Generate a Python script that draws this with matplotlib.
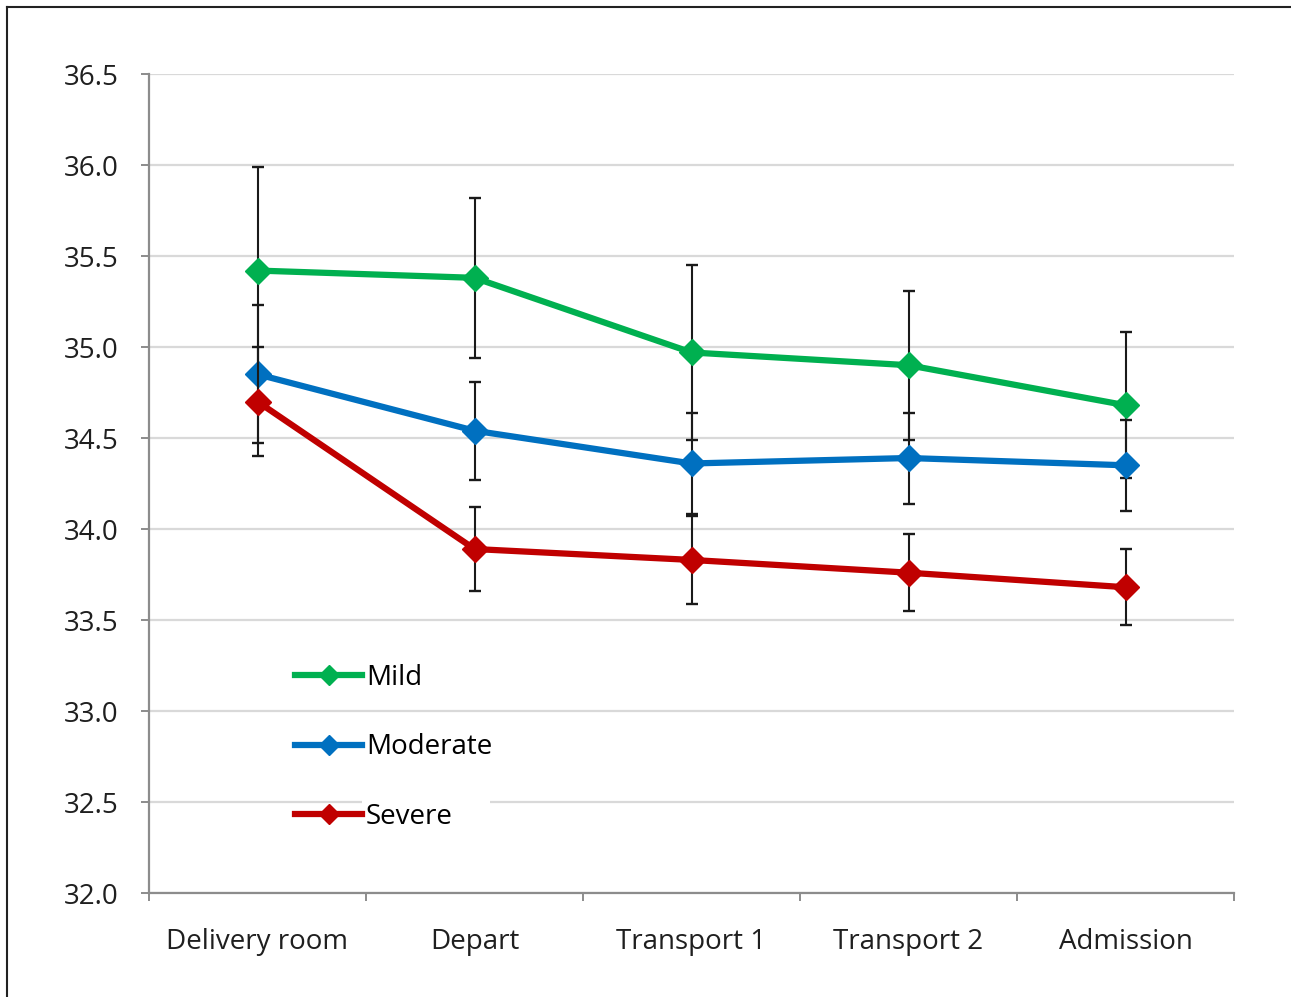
import numpy as np
import matplotlib.pyplot as plt
from matplotlib.lines import Line2D
from matplotlib.patches import Rectangle

# categories along the transport
stages = ['Delivery room', 'Depart', 'Transport 1', 'Transport 2', 'Admission']

# mean temperature per group
mild = [35.42, 35.38, 34.97, 34.90, 34.68]
moderate = [34.85, 34.54, 34.36, 34.39, 34.35]
severe = [34.70, 33.89, 33.83, 33.76, 33.68]

# error bar half widths (SD)
mild_err = [0.57, 0.44, 0.48, 0.41, 0.40]
moderate_err = [0.38, 0.27, 0.28, 0.25, 0.25]
severe_err = [0.30, 0.23, 0.24, 0.21, 0.21]

y_ticks = [32.0, 32.5, 33.0, 33.5, 34.0, 34.5, 35.0, 35.5, 36.0, 36.5]

plt.rcParams['font.family'] = ['Open Sans', 'DejaVu Sans']

fig = plt.figure(figsize=(12.91, 9.97), dpi=100)
ax = fig.add_axes([149 / 1291, 1 - 893 / 997, (1234 - 149) / 1291, (893 - 74) / 997])

# outer frame (only left and top visible in the reference)
fig.add_artist(Line2D([7 / 1291, 7 / 1291], [0, 1 - 7 / 997], color='#222222', lw=1.5,
                      transform=fig.transFigure))
fig.add_artist(Line2D([7 / 1291, 1], [1 - 7 / 997, 1 - 7 / 997], color='#222222', lw=1.5,
                      transform=fig.transFigure))

x = np.arange(len(stages))
series = [
    ('Mild', mild, mild_err, '#00B050'),
    ('Moderate', moderate, moderate_err, '#0070C0'),
    ('Severe', severe, severe_err, '#C00000'),
]

handles = []
for i, (name, vals, err, col) in enumerate(series):
    ax.errorbar(x, vals, yerr=err, fmt='none', ecolor='#1a1a1a', elinewidth=1.5,
                capsize=4.5, capthick=1.7, zorder=3 + i * 2)
    h, = ax.plot(x, vals, color=col, lw=4.5, marker='D', markersize=13,
                 markeredgecolor=col, label=name, zorder=4 + i * 2)
    handles.append(h)

ax.set_xlim(-0.5, len(stages) - 0.5)
ax.set_ylim(32.0, 36.5)
ax.set_yticks(y_ticks)
ax.set_yticklabels([f'{v:.1f}' for v in y_ticks])
ax.set_xticks(x)
ax.set_xticklabels(stages)
ax.set_xticks(np.arange(len(stages) + 1) - 0.5, minor=True)

ax.grid(axis='y', color='#d9d9d9', lw=1.6, zorder=0)
ax.set_axisbelow(True)
for side in ['top', 'right']:
    ax.spines[side].set_visible(False)
for side in ['left', 'bottom']:
    ax.spines[side].set_color('#8c8c8c')
    ax.spines[side].set_linewidth(1.6)

ax.tick_params(axis='y', length=6, width=1.4, color='#8c8c8c', pad=16,
               labelsize=20, labelcolor='#1f1f1f')
ax.tick_params(axis='x', which='major', length=0, pad=25, labelsize=20, labelcolor='#1f1f1f')
ax.tick_params(axis='x', which='minor', length=6, width=1.4, color='#8c8c8c')

# the legend box in the reference hides a piece of the 32.5 gridline
ax.add_patch(Rectangle(((362 - 149) / 1085, (893 - 812) / 819), (490 - 362) / 1085, 14 / 819,
                       transform=ax.transAxes, facecolor='white', edgecolor='none', zorder=1))

leg = ax.legend(handles=handles, loc='upper left', bbox_to_anchor=(0.122, 0.297),
                frameon=False, fontsize=20, handlelength=2.4, handletextpad=0.15,
                labelspacing=1.5, borderpad=0.0, markerscale=0.8)

fig.savefig('out.png', dpi=100, facecolor='white')
